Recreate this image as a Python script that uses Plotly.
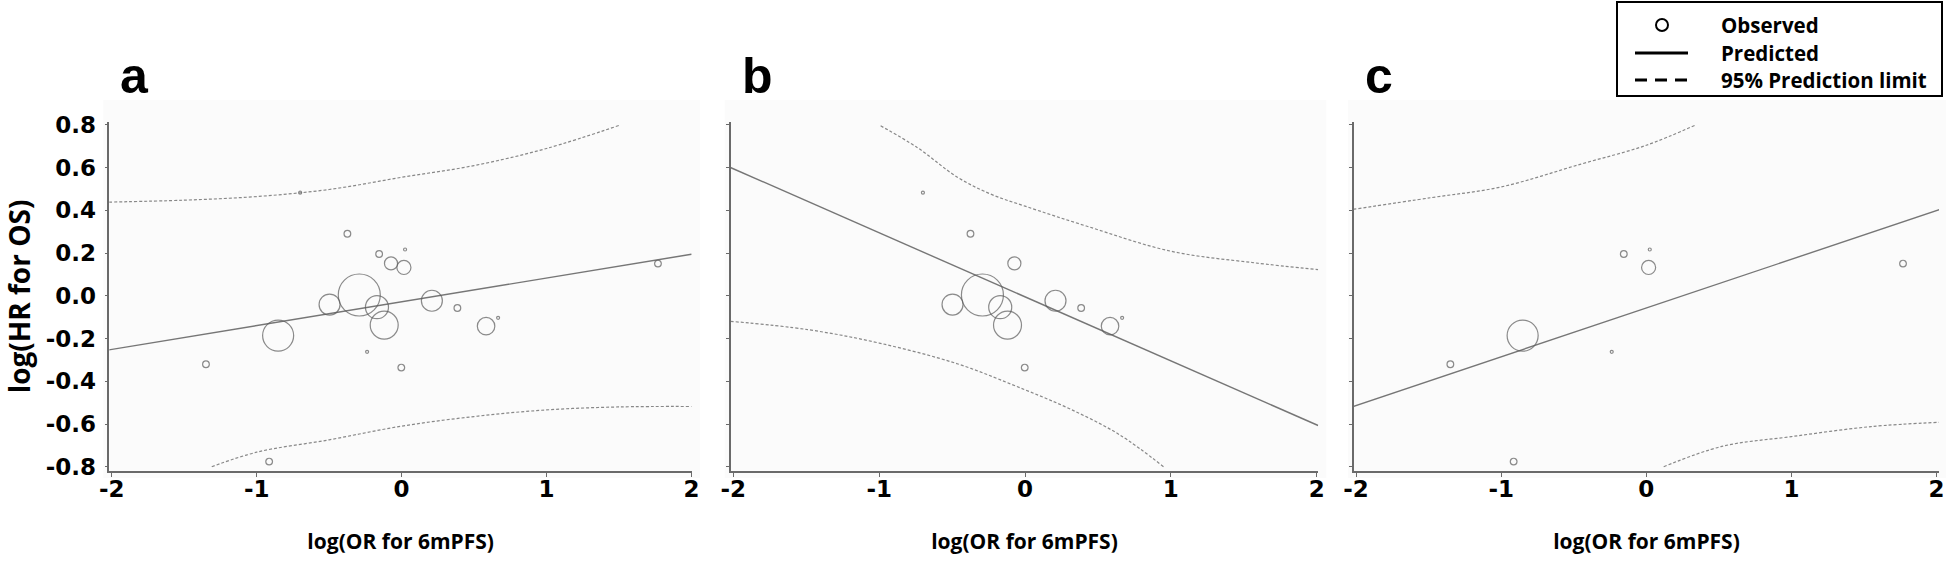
import math
import plotly.graph_objects as go

# ---------------- data ----------------
study_log_or = [-1.350, -0.700, -0.374, -0.155, -0.073, 0.024, 0.016, -0.292, -0.497, -0.170,
                -0.120, -0.852, -0.238, -0.002, -0.914, 0.209, 0.385, 0.583, 0.666, 1.769]
study_log_hr = [-0.320, 0.483, 0.291, 0.196, 0.152, 0.217, 0.133, 0.004, -0.041, -0.053,
                -0.137, -0.186, -0.262, -0.336, -0.776, -0.023, -0.057, -0.142, -0.103, 0.151]
study_weight = [5, 1, 5, 5, 19, 1, 22, 196, 49, 59, 87, 107, 1, 5, 5, 49, 5, 34, 1, 5]
study_group = ["c", "b", "b", "c", "b", "c", "c", "b", "b", "b",
               "b", "c", "c", "b", "c", "b", "b", "b", "b", "c"]

# panel a: all studies
pred_a_x = [-2.02, 2.0]
pred_a_y = [-0.253, 0.195]
upper_a_x = [-2.02, -1.5, -1.0, -0.5, 0.0, 0.5, 1.0, 1.51]
upper_a_y = [0.439, 0.448, 0.465, 0.498, 0.555, 0.610, 0.690, 0.800]
lower_a_x = [-1.31, -1.0, -0.5, 0.0, 0.5, 1.0, 1.5, 2.0]
lower_a_y = [-0.800, -0.732, -0.674, -0.610, -0.565, -0.534, -0.520, -0.518]

# panel b
pred_b_x = [-2.02, 2.01]
pred_b_y = [0.601, -0.607]
upper_b_x = [-0.99, -0.74, -0.46, -0.23, 0.0, 0.42, 1.0, 1.57, 2.01]
upper_b_y = [0.796, 0.695, 0.554, 0.475, 0.420, 0.327, 0.209, 0.155, 0.123]
lower_b_x = [-2.02, -1.49, -1.0, -0.46, 0.0, 0.31, 0.65, 0.95]
lower_b_y = [-0.119, -0.158, -0.221, -0.319, -0.440, -0.530, -0.651, -0.800]

# panel c
pred_c_x = [-2.02, 2.02]
pred_c_y = [-0.518, 0.404]
upper_c_x = [-2.02, -1.48, -1.0, -0.45, 0.0, 0.34]
upper_c_y = [0.405, 0.460, 0.510, 0.617, 0.705, 0.800]
lower_c_x = [0.12, 0.52, 1.0, 1.55, 2.02]
lower_c_y = [-0.800, -0.705, -0.659, -0.612, -0.592]

x_tick_vals = [-2, -1, 0, 1, 2]
x_tick_text = ["-2", "-1", "0", "1", "2"]
y_tick_vals = [0.8, 0.6, 0.4, 0.2, 0.0, -0.2, -0.4, -0.6, -0.8]
y_tick_text = ["0.8", "0.6", "0.4", "0.2", "0.0", "-0.2", "-0.4", "-0.6", "-0.8"]

panel_letters = ["a", "b", "c"]
x_title = "log(OR for 6mPFS)"
y_title = "log(HR for OS)"
legend_names = ["Observed", "Predicted", "95% Prediction limit"]

# ---------------- figure ----------------
W, H = 1946, 564
FONT = "Open Sans"
TICK_FONT = "DejaVu Sans"
CIRCLE_COL = "#5a5a5a"
LINE_COL = "#767676"
DASH_COL = "#888888"
AXIS_COL = "#6a6a6a"


def px_x(p):
    return p / W


def px_y(p):
    return 1 - p / H


fig = go.Figure()

panels = [
    (None, pred_a_x, pred_a_y, upper_a_x, upper_a_y, lower_a_x, lower_a_y, "x", "y"),
    ("b", pred_b_x, pred_b_y, upper_b_x, upper_b_y, lower_b_x, lower_b_y, "x2", "y2"),
    ("c", pred_c_x, pred_c_y, upper_c_x, upper_c_y, lower_c_x, lower_c_y, "x3", "y3"),
]

for grp, px_, py_, ux, uy, lx, ly, xr, yr in panels:
    idx = [i for i in range(len(study_log_or)) if grp is None or study_group[i] == grp]
    for cx, cy in ((ux, uy), (lx, ly)):
        fig.add_trace(go.Scatter(
            x=cx, y=cy, mode="lines", xaxis=xr, yaxis=yr, showlegend=False,
            name=legend_names[2],
            line=dict(color=DASH_COL, width=1.2, dash="3px,2px", shape="spline", smoothing=1.0),
            hoverinfo="skip"))
    fig.add_trace(go.Scatter(
        x=px_, y=py_, mode="lines", xaxis=xr, yaxis=yr, showlegend=False,
        name=legend_names[1], line=dict(color=LINE_COL, width=1.4), hoverinfo="skip"))
    fig.add_trace(go.Scatter(
        x=[study_log_or[i] for i in idx], y=[study_log_hr[i] for i in idx],
        mode="markers", xaxis=xr, yaxis=yr, showlegend=False, name=legend_names[0],
        marker=dict(symbol="circle-open", color=CIRCLE_COL,
                    size=[3.0 * math.sqrt(study_weight[i]) for i in idx],
                    line=dict(width=1.2, color=CIRCLE_COL))))

x_domains = [(109.3, 692.0), (730.7, 1318.3), (1354.0, 1939.0)]
x_ranges = [(-2.017, 2.004), (-2.018, 2.011), (-2.014, 2.017)]
y_dom = [px_y(471), px_y(122)]
y_rng = [-0.820, 0.814]

axis_common = dict(showline=True, linecolor=AXIS_COL, linewidth=1.5, ticks="outside",
                   tickcolor=AXIS_COL, tickwidth=1.2, showgrid=False, zeroline=False,
                   automargin=False)
layout = {}
shapes = []
annotations = []
for k in range(3):
    sfx = "" if k == 0 else str(k + 1)
    d0, d1 = x_domains[k]
    layout["xaxis" + sfx] = dict(
        axis_common, domain=[px_x(d0), px_x(d1)], range=list(x_ranges[k]), ticklen=4,
        tickvals=x_tick_vals, ticktext=x_tick_text, anchor="y" + sfx, ticklabelstandoff=-7,
        tickfont=dict(family=TICK_FONT, size=23, color="black", weight="bold"),
        title=dict(text=x_title, standoff=33,
                   font=dict(family=FONT, size=21, color="black", weight="bold")))
    ydict = dict(axis_common, domain=y_dom, range=y_rng, ticklen=3,
                 tickvals=y_tick_vals, ticktext=y_tick_text, anchor="x" + sfx,
                 showticklabels=(k == 0), ticklabelstandoff=4,
                 tickfont=dict(family=TICK_FONT, size=23, color="black", weight="bold"))
    if k == 0:
        ydict["title"] = dict(text=y_title, standoff=7,
                              font=dict(family=FONT, size=28, color="black", weight="bold"))
    layout["yaxis" + sfx] = ydict
    # faint panel background
    shapes.append(dict(type="rect", xref="paper", yref="paper", layer="below",
                       x0=px_x(d0 - 6), x1=px_x(d1 + 8), y0=px_y(478), y1=px_y(100),
                       fillcolor="#fbfbfb", line=dict(width=0)))
    annotations.append(dict(text=panel_letters[k], xref="paper", yref="paper",
                            x=px_x(d0 + 9), y=px_y(76), xanchor="left", yanchor="middle",
                            showarrow=False,
                            font=dict(family="Liberation Sans", size=50, color="black",
                                      weight="bold")))

# ---------------- legend box (top right) ----------------
shapes.append(dict(type="rect", xref="paper", yref="paper",
                   x0=px_x(1617), x1=px_x(1942), y0=px_y(96), y1=px_y(2),
                   line=dict(color="black", width=2), fillcolor="white"))
shapes.append(dict(type="circle", xref="paper", yref="paper",
                   x0=px_x(1656), x1=px_x(1668), y0=px_y(31), y1=px_y(19),
                   line=dict(color="black", width=2)))
shapes.append(dict(type="line", xref="paper", yref="paper",
                   x0=px_x(1635), x1=px_x(1688), y0=px_y(53), y1=px_y(53),
                   line=dict(color="black", width=3)))
shapes.append(dict(type="line", xref="paper", yref="paper",
                   x0=px_x(1635), x1=px_x(1689), y0=px_y(80), y1=px_y(80),
                   line=dict(color="black", width=3, dash="12px,8px")))
for name, yc in zip(legend_names, (25, 53, 80)):
    annotations.append(dict(text=name, xref="paper", yref="paper", x=px_x(1719), y=px_y(yc),
                            xanchor="left", yanchor="middle", showarrow=False,
                            font=dict(family=FONT, size=20.5, color="black", weight="bold")))

fig.update_layout(
    width=W, height=H, margin=dict(l=0, r=0, t=0, b=0, autoexpand=False),
    paper_bgcolor="white", plot_bgcolor="rgba(0,0,0,0)", showlegend=False,
    shapes=shapes, annotations=annotations, **layout)

# the page's default 8px body margin would shift the whole figure; remove it
fig.write_html("out.html", config={"displayModeBar": False},
               post_script="document.body.style.margin='0';")
